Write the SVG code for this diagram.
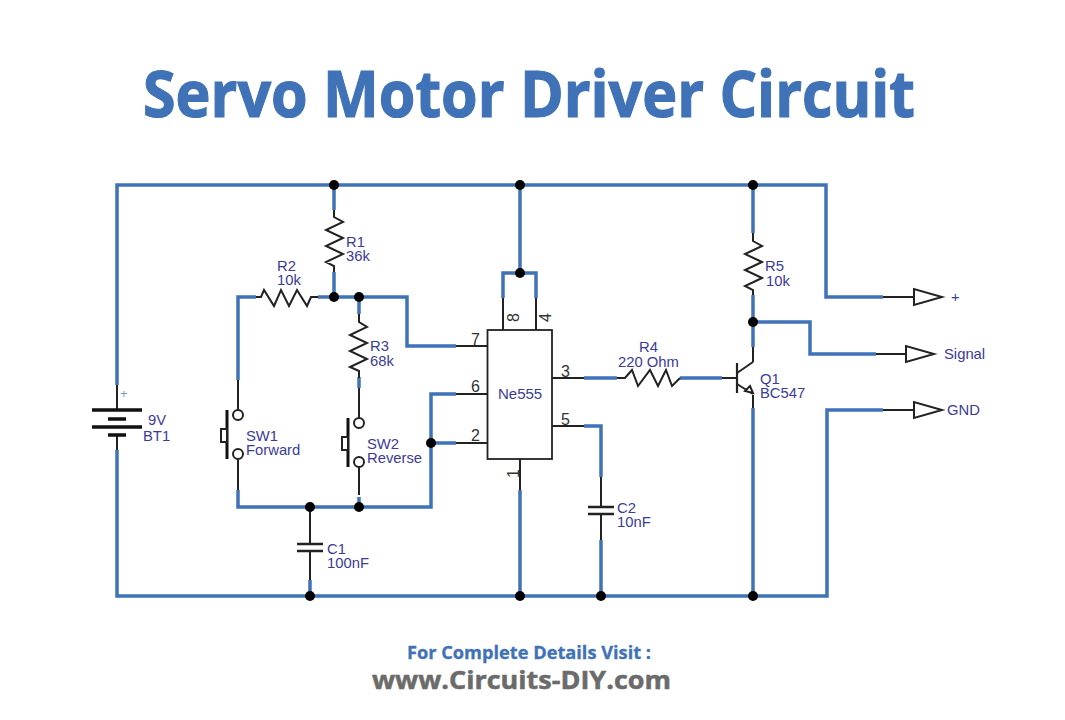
<svg xmlns="http://www.w3.org/2000/svg" width="1065" height="720" viewBox="0 0 1065 720">
<style>
.w{fill:none;stroke:#3f72b7;stroke-width:3.5;stroke-linejoin:miter}
.b{fill:none;stroke:#222;stroke-width:2}
.p{fill:none;stroke:#111;stroke-width:3.6}
.l{font:14.800px "Liberation Sans",Arial,sans-serif;fill:#3b3b98}
.n{font:16px "Liberation Sans",Arial,sans-serif;fill:#333}
.t{font:bold 65px "Open Sans",sans-serif;fill:#3f72b7;stroke:#3f72b7;stroke-width:1.200}
.f{font:bold 17px "Open Sans",sans-serif;fill:#3f72b7;stroke:#3f72b7;stroke-width:.3}
.g{font:bold 24.500px "Open Sans",sans-serif;fill:#6b6b6b;stroke:#6b6b6b;stroke-width:.5}
.c{fill:#fff;stroke:#222;stroke-width:2}
</style>
<defs><circle id="j" r="5" fill="#000"/></defs>
<rect width="1065" height="720" fill="#fff"/>
<text class="t" x="143" y="117" textLength="772" lengthAdjust="spacingAndGlyphs">Servo Motor Driver Circuit</text>
<text class="f" x="407" y="659" textLength="244" lengthAdjust="spacingAndGlyphs">For Complete Details Visit :</text>
<text class="g" x="372" y="689" textLength="299" lengthAdjust="spacingAndGlyphs">www.Circuits-DIY.com</text>
<g id="connectors">
<path class="b" d="M117 385V410M117 435V452M456 346H487M456 394H487M456 443H487M552 378H584M552 426H584M520 459V492M503 298V330M536 298V330M238 378V410M238 459V492M359 388V418M359 467V495M310 512V544M310 551V580M601 477V507M601 514V540M753 347V362M753 395V408M722 378H737M883 297H914M876 354H906M883 410H914"/>
<path class="w" d="M117 385V185H826V297H883M334 185V210M334 272V297M520 185V273M503 298V273H536V298M238 380V297H256M318 297H407V346H456M359 297V314M359 377V388M117 450V596H827V410H883M238 490V507H431V394H456M431 443H456M359 497V507M310 512V507M310 580V596M520 490V596M584 378H617M680 378H722M584 426H601V477M601 540V596M753 185V233M753 295V347M753 322H810V354H876M753 408V596"/>
</g>
<g id="junctions">
<use href="#j" x="334" y="185"/><use href="#j" x="520" y="185"/><use href="#j" x="753" y="185"/><use href="#j" x="520" y="273"/><use href="#j" x="334" y="297"/><use href="#j" x="359" y="297"/><use href="#j" x="753" y="322"/><use href="#j" x="431" y="443"/><use href="#j" x="310" y="507"/><use href="#j" x="359" y="507"/><use href="#j" x="310" y="596"/><use href="#j" x="520" y="596"/><use href="#j" x="601" y="596"/><use href="#j" x="753" y="596"/>
</g>
<g id="BT1">
<path class="p" d="M92 410H142M108 419H126M92 427H142M108 435H126"/>
<text x="120" y="398" style="font:13px 'Liberation Sans',sans-serif;fill:#7a9cc6">+</text>
<text class="l" x="148" y="425">9V</text><text class="l" x="143" y="441">BT1</text>
</g>
<g id="R1"><path class="b" d="M334 210V217L343 222L326 230L343 238L326 246L343 254L326 262L334 266V272"/><text class="l" x="346" y="247">R1</text><text class="l" x="346" y="261">36k</text></g>
<g id="R2"><path class="b" d="M256 297H261L264 290L274 306L281 290L289 306L297 290L307 306L311 297H318"/><text class="l" x="277" y="271">R2</text><text class="l" x="277" y="285">10k</text></g>
<g id="R3"><path class="b" d="M359 314V322L367 327L350 335L367 343L350 351L367 359L350 367L359 371V378"/><text class="l" x="370" y="351">R3</text><text class="l" x="370" y="366">68k</text></g>
<g id="R4"><path class="b" d="M617 378H625L632 370L638 386L650 370L658 386L666 370L672 386L680 378"/><text class="l" x="639" y="352">R4</text><text class="l" x="618" y="367">220 Ohm</text></g>
<g id="R5"><path class="b" d="M753 233V241L762 246L745 254L762 262L745 270L762 278L745 286L753 290V295"/><text class="l" x="765" y="271">R5</text><text class="l" x="766" y="286">10k</text></g>
<g id="SW1"><circle class="c" cx="238" cy="415" r="5"/><circle class="c" cx="238" cy="454" r="5"/><path class="p" d="M227 410V459" style="stroke-width:3"/><rect class="c" x="221" y="429" width="6" height="13"/><text class="l" x="246" y="441">SW1</text><text class="l" x="246" y="455">Forward</text></g>
<g id="SW2"><circle class="c" cx="359" cy="423" r="5"/><circle class="c" cx="359" cy="462" r="5"/><path class="p" d="M348 418V467" style="stroke-width:3"/><rect class="c" x="342" y="437" width="6" height="13"/><text class="l" x="367" y="449">SW2</text><text class="l" x="367" y="463">Reverse</text></g>
<g id="C1"><path class="b" d="M297 544H323M297 551H323" style="stroke-width:2.400"/><text class="l" x="327" y="554">C1</text><text class="l" x="327" y="568">100nF</text></g>
<g id="C2"><path class="b" d="M588 507H614M588 514H614" style="stroke-width:2.400"/><text class="l" x="617" y="513">C2</text><text class="l" x="617" y="527">10nF</text></g>
<g id="Ne555">
<rect x="487.500" y="330" width="64.500" height="129" fill="#fff" stroke="#222" stroke-width="1.800"/>
<text class="l" x="498" y="399" style="font-size:15px">Ne555</text>
<text class="n" x="471" y="345">7</text><text class="n" x="471" y="392">6</text><text class="n" x="471" y="441">2</text><text class="n" x="561" y="377">3</text><text class="n" x="561" y="425">5</text>
<text class="n" transform="translate(519 322) rotate(-90)">8</text><text class="n" transform="translate(551 322) rotate(-90)">4</text><text class="n" transform="translate(519 478) rotate(-90)">1</text>
</g>
<g id="Q1"><path class="b" d="M737 363V393" style="stroke-width:2.200"/><path class="b" d="M753 362L737 373M737 384L753 394"/><path class="c" d="M745 391L750 386L753 393Z"/><text class="l" x="760" y="384">Q1</text><text class="l" x="760" y="398">BC547</text></g>
<g id="OUT1"><path class="c" style="fill:none" d="M914 289V305L942 297Z"/><text class="l" x="951" y="302">+</text></g>
<g id="OUT2"><path class="c" style="fill:none" d="M906 346V362L934 354Z"/><text class="l" x="944" y="359">Signal</text></g>
<g id="OUT3"><path class="c" style="fill:none" d="M914 402V418L942 410Z"/><text class="l" x="947" y="415">GND</text></g>
</svg>
